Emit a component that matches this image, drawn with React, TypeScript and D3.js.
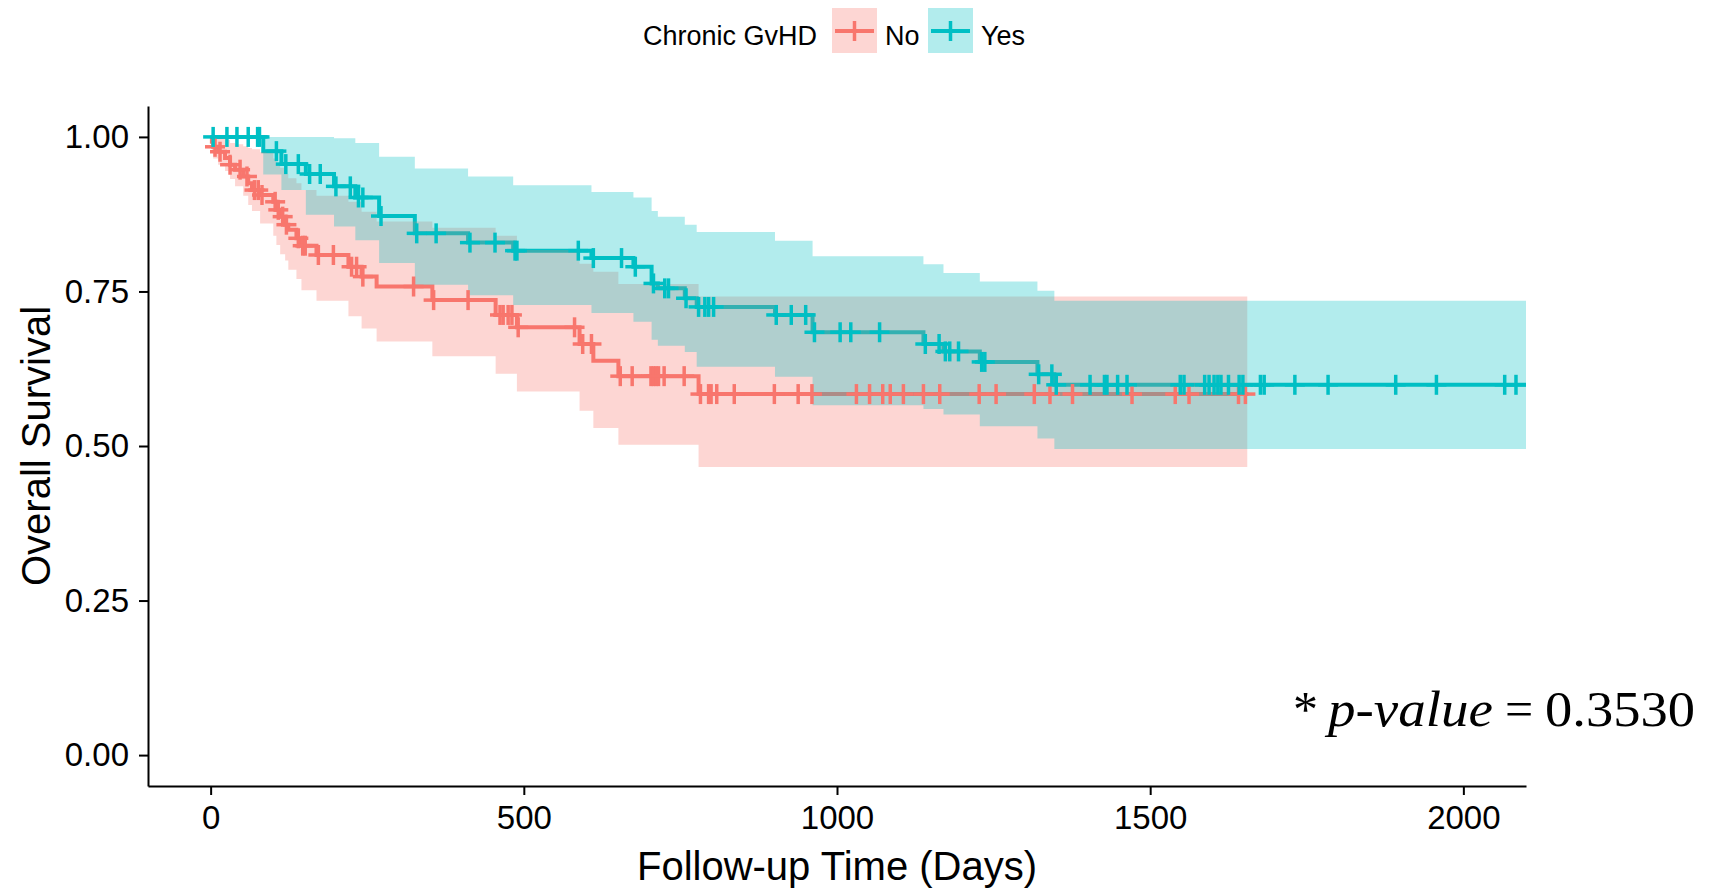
import React, { useRef, useEffect } from "react";
import * as d3 from "d3";

// Chronic GvHD = No
const noTime = [0, 2, 4, 12, 23, 31, 39, 52, 60, 66, 79, 100, 105, 111, 119, 124, 137, 145, 169, 220, 241, 265, 354, 455, 489, 589, 611, 651, 779, 1655];
const noSurv = [1.0, 0.992, 0.984, 0.976, 0.966, 0.955, 0.947, 0.936, 0.925, 0.914, 0.906, 0.895, 0.882, 0.871, 0.858, 0.85, 0.836, 0.824, 0.809, 0.79, 0.774, 0.758, 0.736, 0.712, 0.692, 0.665, 0.638, 0.613, 0.584, 0.584];
const noUpper = [1.0, 1.0, 1.0, 1.0, 0.995, 0.99, 0.988, 0.985, 0.982, 0.98, 0.975, 0.965, 0.958, 0.95, 0.94, 0.933, 0.925, 0.914, 0.905, 0.895, 0.879, 0.863, 0.853, 0.84, 0.817, 0.795, 0.782, 0.762, 0.742, 0.742];
const noLower = [1.0, 0.975, 0.965, 0.955, 0.945, 0.932, 0.92, 0.905, 0.89, 0.88, 0.86, 0.84, 0.825, 0.81, 0.8, 0.785, 0.77, 0.752, 0.735, 0.71, 0.69, 0.669, 0.645, 0.617, 0.588, 0.557, 0.529, 0.502, 0.466, 0.466];
const noCensor = [7, 15, 31, 47, 58, 70, 76, 82, 103, 108, 115, 121, 140, 147, 151, 172, 196, 225, 233, 243, 324, 356, 411, 462, 467, 475, 481, 491, 581, 594, 608, 654, 673, 703, 707, 711, 715, 724, 756, 782, 795, 799, 808, 836, 900, 938, 960, 1031, 1052, 1073, 1085, 1106, 1138, 1164, 1227, 1254, 1315, 1340, 1376, 1471, 1540, 1562, 1641, 1652];

// Chronic GvHD = Yes
const yesTime = [0, 84, 113, 152, 197, 231, 269, 326, 411, 483, 608, 675, 704, 714, 757, 776, 901, 961, 1138, 1170, 1228, 1320, 1347, 2100];
const yesSurv = [1.0, 0.977, 0.956, 0.94, 0.92, 0.902, 0.872, 0.844, 0.829, 0.816, 0.804, 0.79, 0.763, 0.755, 0.739, 0.725, 0.712, 0.684, 0.665, 0.653, 0.636, 0.616, 0.599, 0.599];
const yesUpper = [1.0, 1.0, 1.0, 1.0, 0.998, 0.99, 0.968, 0.949, 0.936, 0.922, 0.911, 0.902, 0.88, 0.871, 0.858, 0.846, 0.832, 0.807, 0.794, 0.78, 0.766, 0.751, 0.735, 0.735];
const yesLower = [1.0, 0.939, 0.914, 0.874, 0.855, 0.833, 0.796, 0.761, 0.744, 0.728, 0.715, 0.701, 0.672, 0.662, 0.652, 0.628, 0.612, 0.566, 0.56, 0.551, 0.532, 0.512, 0.495, 0.495];
const yesCensor = [4, 26, 42, 60, 75, 78, 105, 120, 140, 158, 175, 200, 223, 236, 243, 272, 329, 360, 414, 454, 486, 489, 587, 611, 656, 678, 707, 725, 731, 759, 779, 789, 795, 803, 903, 927, 950, 964, 1005, 1022, 1068, 1141, 1163, 1173, 1180, 1194, 1231, 1236, 1322, 1343, 1350, 1404, 1427, 1431, 1448, 1463, 1548, 1554, 1587, 1594, 1602, 1608, 1613, 1625, 1642, 1648, 1676, 1682, 1731, 1784, 1892, 1957, 2066, 2084];

const xTicks = [0, 500, 1000, 1500, 2000];
const yTicks = [0, 0.25, 0.5, 0.75, 1];
const groups = ["No", "Yes"];
const colors = ["#F8766D", "#00BFC4"];

const W = 1709;
const H = 892;

const App = () => {
    const ref = useRef<SVGSVGElement>(null);

    useEffect(() => {
        if (!ref.current) return;
        const svg = d3.select(ref.current);
        svg.selectAll("*").remove();

        const x = d3.scaleLinear().domain([-100, 2100]).range([148, 1526]);
        const y = d3.scaleLinear().domain([-0.05, 1.05]).range([786, 106]);

        const strata = [
            { time: noTime, surv: noSurv, upper: noUpper, lower: noLower, censor: noCensor, color: colors[0] },
            { time: yesTime, surv: yesSurv, upper: yesUpper, lower: yesLower, censor: yesCensor, color: colors[1] },
        ];

        svg.append("defs")
            .append("clipPath")
            .attr("id", "panel")
            .append("rect")
            .attr("x", 148)
            .attr("y", 106)
            .attr("width", 1526 - 148)
            .attr("height", 786 - 106);

        const panel = svg.append("g").attr("clip-path", "url(#panel)");

        // survival curves (drawn under the ribbons, as in ggsurvplot)
        strata.forEach((s) => {
            const pts = s.time.map((t, i) => [x(t), y(s.surv[i])] as [number, number]);
            panel.append("path")
                .attr("d", d3.line().curve(d3.curveStepAfter)(pts))
                .attr("fill", "none")
                .attr("stroke", s.color)
                .attr("stroke-width", 4);
        });

        // confidence ribbons
        strata.forEach((s) => {
            const area = d3
                .area<number>()
                .x((i) => x(s.time[i]))
                .y0((i) => y(s.lower[i]))
                .y1((i) => y(s.upper[i]))
                .curve(d3.curveStepAfter);
            panel.append("path")
                .attr("d", area(d3.range(s.time.length)))
                .attr("fill", s.color)
                .attr("fill-opacity", 0.3);
        });

        // censor marks
        strata.forEach((s) => {
            const g = panel.append("g").attr("stroke", s.color).attr("stroke-width", 3.5);
            s.censor.forEach((t) => {
                const i = Math.max(0, d3.bisectRight(s.time, t) - 1);
                const cx = x(t);
                const cy = y(s.surv[i]);
                g.append("line").attr("x1", cx - 10).attr("x2", cx + 10).attr("y1", cy).attr("y2", cy);
                g.append("line").attr("x1", cx).attr("x2", cx).attr("y1", cy - 10).attr("y2", cy + 10);
            });
        });

        // axes
        const xAxis = svg.append("g")
            .attr("transform", "translate(0,786)")
            .call(d3.axisBottom(x).tickValues(xTicks).tickFormat(d3.format("d")).tickSize(9).tickSizeOuter(0).tickPadding(11));
        const yAxis = svg.append("g")
            .attr("transform", "translate(148,0)")
            .call(d3.axisLeft(y).tickValues(yTicks).tickFormat(d3.format(".2f")).tickSize(9).tickSizeOuter(0).tickPadding(10));

        [xAxis, yAxis].forEach((a) => {
            a.select(".domain").attr("stroke", "#000").attr("stroke-width", 2);
            a.selectAll(".tick line").attr("stroke", "#000").attr("stroke-width", 2);
            a.selectAll(".tick text")
                .attr("fill", "#000")
                .style("font-family", "'Liberation Sans', Arial, sans-serif")
                .style("font-size", "33px");
        });

        // axis titles
        svg.append("text")
            .attr("x", 837)
            .attr("y", 880)
            .attr("text-anchor", "middle")
            .style("font-family", "'Liberation Sans', Arial, sans-serif")
            .style("font-size", "40px")
            .text("Follow-up Time (Days)");

        svg.append("text")
            .attr("transform", "translate(50,446) rotate(-90)")
            .attr("text-anchor", "middle")
            .style("font-family", "'Liberation Sans', Arial, sans-serif")
            .style("font-size", "40px")
            .text("Overall Survival");

        // legend
        const legend = svg.append("g").style("font-family", "'Liberation Sans', Arial, sans-serif").style("font-size", "27px");
        legend.append("text").attr("x", 643).attr("y", 45).text("Chronic GvHD");
        const keyX = [832, 928];
        const labelX = [885, 981];
        groups.forEach((name, i) => {
            const kx = keyX[i];
            legend.append("rect")
                .attr("x", kx).attr("y", 8).attr("width", 45).attr("height", 45)
                .attr("fill", colors[i]).attr("fill-opacity", 0.3);
            legend.append("line")
                .attr("x1", kx + 3).attr("x2", kx + 42).attr("y1", 31).attr("y2", 31)
                .attr("stroke", colors[i]).attr("stroke-width", 4);
            legend.append("line")
                .attr("x1", kx + 22.5).attr("x2", kx + 22.5).attr("y1", 21).attr("y2", 41)
                .attr("stroke", colors[i]).attr("stroke-width", 3.5);
            legend.append("text").attr("x", labelX[i]).attr("y", 45).text(name);
        });

        // p-value annotation
        const pv = svg.append("g").style("font-family", "'Liberation Serif', 'DejaVu Serif', serif").style("font-size", "50px");
        pv.append("text").attr("x", 1293).attr("y", 726).text("*");
        pv.append("text").attr("x", 1328).attr("y", 726).style("font-style", "italic")
            .attr("textLength", 165).attr("lengthAdjust", "spacingAndGlyphs").text("p-value");
        pv.append("text").attr("x", 1505).attr("y", 726).text("=");
        pv.append("text").attr("x", 1545).attr("y", 726)
            .attr("textLength", 150).attr("lengthAdjust", "spacingAndGlyphs").text("0.3530");
    }, []);

    return (
        <svg
            ref={ref}
            width={W}
            height={H}
            style={{ position: "absolute", left: 0, top: 0, background: "#fff" }}
        />
    );
};

export default App;
